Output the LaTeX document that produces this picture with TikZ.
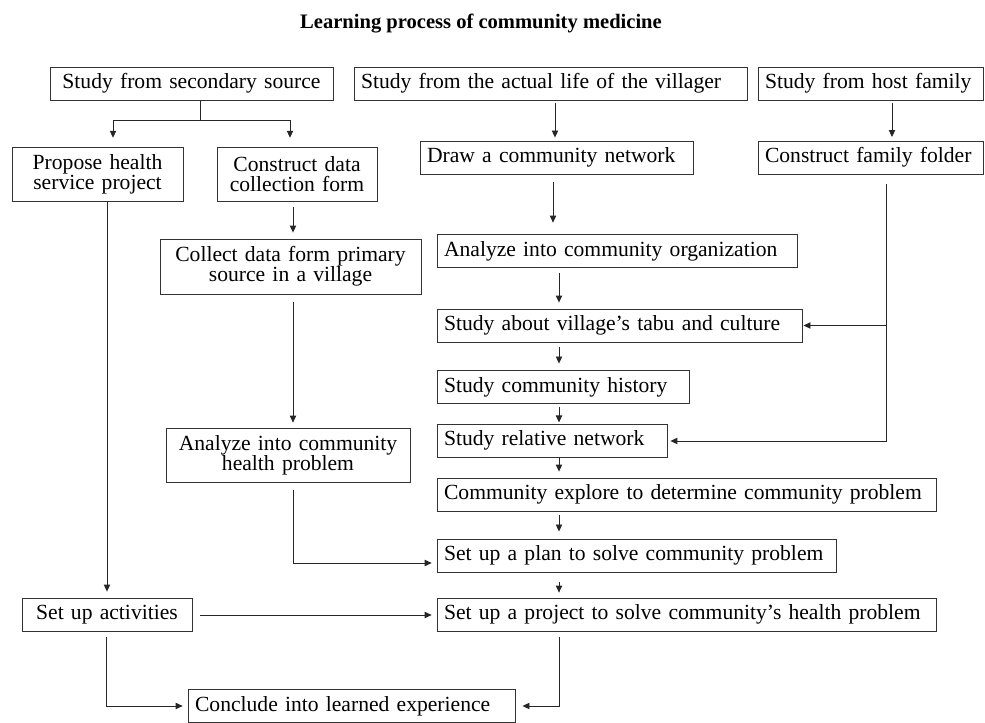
\documentclass[tikz,border=0pt]{standalone}
\usepackage{fontspec}
\setmainfont{Liberation Serif}
\usetikzlibrary{arrows.meta}

\begin{document}
\begin{tikzpicture}[
  x=0.02cm, y=-0.02cm,
  box/.style={draw=black!80, line width=0.5pt, font=\fontsize{12.3}{11.3}\selectfont, inner xsep=0.14cm, inner ysep=0pt, minimum height=0.66cm, align=left},
  cbox/.style={box, align=center, minimum height=1.08cm},
  line/.style={line width=0.5pt, black!85},
  arr/.style={line, -{Triangle[length=4pt,width=3.6pt]}}
]
\useasboundingbox (0,0) rectangle (985,723);
\node[font=\bfseries\fontsize{11.7}{14}\selectfont, anchor=base] (title) at (481,29) {Learning process of community medicine};
% top row
\node[box, text width=5.38cm, align=center] (secondary) at (191.5,83.5) {Study from secondary source};
\node[box, text width=7.58cm] (villager) at (550.5,83.5) {Study from the actual life of the villager};
\node[box, text width=4.22cm] (host)     at (870.5,83.5) {Study from host family};
% second row
\node[cbox, text width=3.14cm] (propose)  at (97.5,174)  {Propose health\\service project};
\node[cbox, text width=2.92cm] (dataform) at (297,174)   {Construct data\\collection form};
\node[box, text width=5.18cm]  (network)  at (556.5,157.5) {Draw a community network};
\node[box, text width=4.22cm]  (folder)   at (870.5,157.5) {Construct family folder};
% middle
\node[cbox, text width=4.94cm, minimum height=1.1cm] (collect) at (290.5,266.5) {Collect data form primary\\source in a village};
\node[box, text width=6.92cm] (organize) at (617,251)     {Analyze into community organization};
\node[box, text width=7.02cm] (tabu)     at (619.5,325.5) {Study about village’s tabu and culture};
\node[box, text width=4.76cm] (history)  at (563,387)     {Study community history};
\node[box, text width=4.32cm] (relative) at (552,440.5)   {Study relative network};
\node[box, text width=9.70cm] (explore)  at (686.5,494.5) {Community explore to determine community problem};
\node[cbox, text width=4.60cm] (healthprob) at (288,455)  {Analyze into community\\health problem};
% bottom
\node[box, text width=7.70cm] (plan)     at (636.5,555.5) {Set up a plan to solve community problem};
\node[box, text width=3.12cm, align=center] (activities) at (107,614.5) {Set up activities};
\node[box, text width=9.70cm] (project)  at (686.5,614.5) {Set up a project to solve community’s health problem};
\node[box, text width=6.26cm] (conclude) at (351.5,706)   {Conclude into learned experience};
% connectors
\coordinate (fork) at (200,120);
\draw[line] (secondary.south -| fork) -- (fork);
\draw[arr, shorten >=5pt] (fork) -| (propose.north -| 113,0);
\draw[arr, shorten >=5pt] (fork) -| (dataform.north -| 290,0);
\draw[arr, shorten <=1.7pt, shorten >=1.7pt] (villager.south -| 555,0) -- (network.north -| 555,0);
\draw[arr, shorten <=1.7pt, shorten >=2pt] (host.south -| 892,0) -- (folder.north -| 892,0);
\draw[arr, shorten <=3.4pt, shorten >=3.4pt] (dataform.south -| 293,0) -- (collect.north -| 293,0);
\draw[arr, shorten <=4.5pt, shorten >=6.5pt] (network.south -| 553,0) -- (organize.north -| 553,0);
\draw[arr, shorten <=2.6pt, shorten >=3.4pt] (organize.south -| 559,0) -- (tabu.north -| 559,0);
\draw[arr, shorten <=2.8pt, shorten >=3.7pt] (tabu.south -| 559,0) -- (history.north -| 559,0);
\draw[arr, shorten <=2pt, shorten >=0.6pt] (history.south -| 559,0) -- (relative.north -| 559,0);
\draw[arr, shorten >=3.4pt] (relative.south -| 559,0) -- (explore.north -| 559,0);
\draw[arr, shorten <=2.3pt, shorten >=4pt] (explore.south -| 559,0) -- (plan.north -| 559,0);
\draw[arr, shorten <=5.7pt, shorten >=2.8pt] (plan.south -| 559,0) -- (project.north -| 559,0);
\draw[arr, shorten <=4.5pt, shorten >=2.8pt] (collect.south -| 293,0) -- (healthprob.north -| 293,0);
\draw[arr, shorten <=4.5pt, shorten >=2.8pt] (healthprob.south -| 293,0) |- (plan.west |- 0,563);
\draw[arr, shorten >=3.4pt] (propose.south -| 107,0) -- (activities.north -| 107,0);
\draw[arr, shorten <=4.5pt, shorten >=2.8pt] (activities.east |- 0,615) -- (project.west |- 0,615);
\draw[arr, shorten <=5.7pt, shorten >=1.7pt] (folder.south -| 886,0) |- (relative.east |- 0,441);
\coordinate (tap) at (tabu.east -| 886,0);
\draw[arr, shorten >=0.6pt] (tap) -- (tabu.east);
\draw[arr, shorten <=3.4pt, shorten >=2.8pt] (activities.south -| 106,0) |- (conclude.west);
\draw[arr, shorten <=3.4pt, shorten >=4pt] (project.south -| 559,0) |- (conclude.east);
\end{tikzpicture}
\end{document}
